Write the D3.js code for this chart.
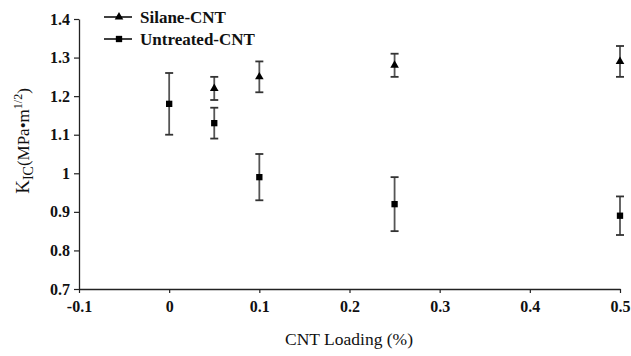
<!DOCTYPE html>
<html><head><meta charset="utf-8">
<script src="https://cdn.jsdelivr.net/npm/d3@7"></script>
<style>body{margin:0;background:#fff}svg{display:block}</style>
</head><body>
<svg id="c" width="631" height="356"></svg>
<script>
const seriesNames = ["Silane-CNT", "Untreated-CNT"];
const silaneX = [0.05, 0.1, 0.25, 0.5];
const silaneY = [1.22, 1.25, 1.28, 1.29];
const silaneErr = [0.03, 0.04, 0.03, 0.04];
const untreatedX = [0, 0.05, 0.1, 0.25, 0.5];
const untreatedY = [1.18, 1.13, 0.99, 0.92, 0.89];
const untreatedErr = [0.08, 0.04, 0.06, 0.07, 0.05];
const xTicks = [-0.1, 0, 0.1, 0.2, 0.3, 0.4, 0.5];
const yTicks = [0.7, 0.8, 0.9, 1, 1.1, 1.2, 1.3, 1.4];

const svg = d3.select("#c");
const x = d3.scaleLinear().domain([-0.1, 0.5]).range([79, 620]);
const y = d3.scaleLinear().domain([0.7, 1.4]).range([289, 19]);
const font = "'Liberation Serif','Times New Roman',serif";
const fmt = d => String(+d.toFixed(2));

// axes
const xa = svg.append("g").attr("transform", "translate(0,289)")
  .call(d3.axisBottom(x).tickValues(xTicks).tickSize(4).tickSizeOuter(0).tickFormat(fmt));
const ya = svg.append("g").attr("transform", "translate(79,0)")
  .call(d3.axisLeft(y).tickValues(yTicks).tickSize(5).tickSizeOuter(0).tickFormat(fmt));
[xa, ya].forEach(g => {
  g.select(".domain").attr("stroke", "#222").attr("stroke-width", 1.3);
  g.selectAll(".tick line").attr("stroke", "#222").attr("stroke-width", 1.2);
  g.selectAll("text").attr("font-family", font).attr("font-weight", "bold")
    .attr("font-size", 16).attr("fill", "#111");
});
xa.selectAll("text").attr("dy", "1.0em");
ya.selectAll("text").attr("x", -9);

// axis titles
svg.append("text").attr("x", 349).attr("y", 345).attr("text-anchor", "middle")
  .attr("font-family", font).attr("font-size", 17.5).attr("fill", "#111").text("CNT Loading (%)");
const yl = svg.append("text").attr("transform", "translate(29,141) rotate(-90)")
  .attr("text-anchor", "middle").attr("font-family", font).attr("font-size", 17).attr("fill", "#111");
yl.append("tspan").attr("font-size", 19).text("K");
yl.append("tspan").attr("font-size", 14).attr("dy", 4).text("IC");
yl.append("tspan").attr("dy", -4).text("(MPa•m");
yl.append("tspan").attr("font-size", 12).attr("dy", -7).text("1/2");
yl.append("tspan").attr("dy", 7).text(")");

// data
const silane = silaneX.map((d, i) => ({x: d, y: silaneY[i], e: silaneErr[i]}));
const untreated = untreatedX.map((d, i) => ({x: d, y: untreatedY[i], e: untreatedErr[i]}));

function errBars(data) {
  const g = svg.append("g").attr("stroke", "#555").attr("stroke-width", 1.8);
  data.forEach(d => {
    g.append("line").attr("x1", x(d.x)).attr("x2", x(d.x)).attr("y1", y(d.y - d.e)).attr("y2", y(d.y + d.e));
    g.append("line").attr("x1", x(d.x) - 4).attr("x2", x(d.x) + 4).attr("y1", y(d.y - d.e)).attr("y2", y(d.y - d.e)).attr("stroke", "#333");
    g.append("line").attr("x1", x(d.x) - 4).attr("x2", x(d.x) + 4).attr("y1", y(d.y + d.e)).attr("y2", y(d.y + d.e)).attr("stroke", "#333");
  });
}
errBars(untreated);
errBars(silane);

const tri = d3.symbol().type(d3.symbolTriangle).size(32);
const sq = d3.symbol().type(d3.symbolSquare).size(40);
svg.append("g").selectAll("path").data(silane).join("path")
  .attr("d", tri).attr("transform", d => `translate(${x(d.x)},${y(d.y)})`).attr("fill", "#000");
svg.append("g").selectAll("path").data(untreated).join("path")
  .attr("d", sq).attr("transform", d => `translate(${x(d.x)},${y(d.y)})`).attr("fill", "#000");

// legend
const leg = [{name: seriesNames[0], sym: tri, yy: 17}, {name: seriesNames[1], sym: sq, yy: 39}];
leg.forEach(l => {
  svg.append("line").attr("x1", 104).attr("x2", 132).attr("y1", l.yy).attr("y2", l.yy)
    .attr("stroke", "#000").attr("stroke-width", 1.5);
  svg.append("path").attr("d", l.sym).attr("transform", `translate(119,${l.yy})`).attr("fill", "#000");
  svg.append("text").attr("x", 140).attr("y", l.yy + 6).attr("font-family", font)
    .attr("font-weight", "bold").attr("font-size", 17).attr("fill", "#111").text(l.name);
});
</script>
</body></html>
